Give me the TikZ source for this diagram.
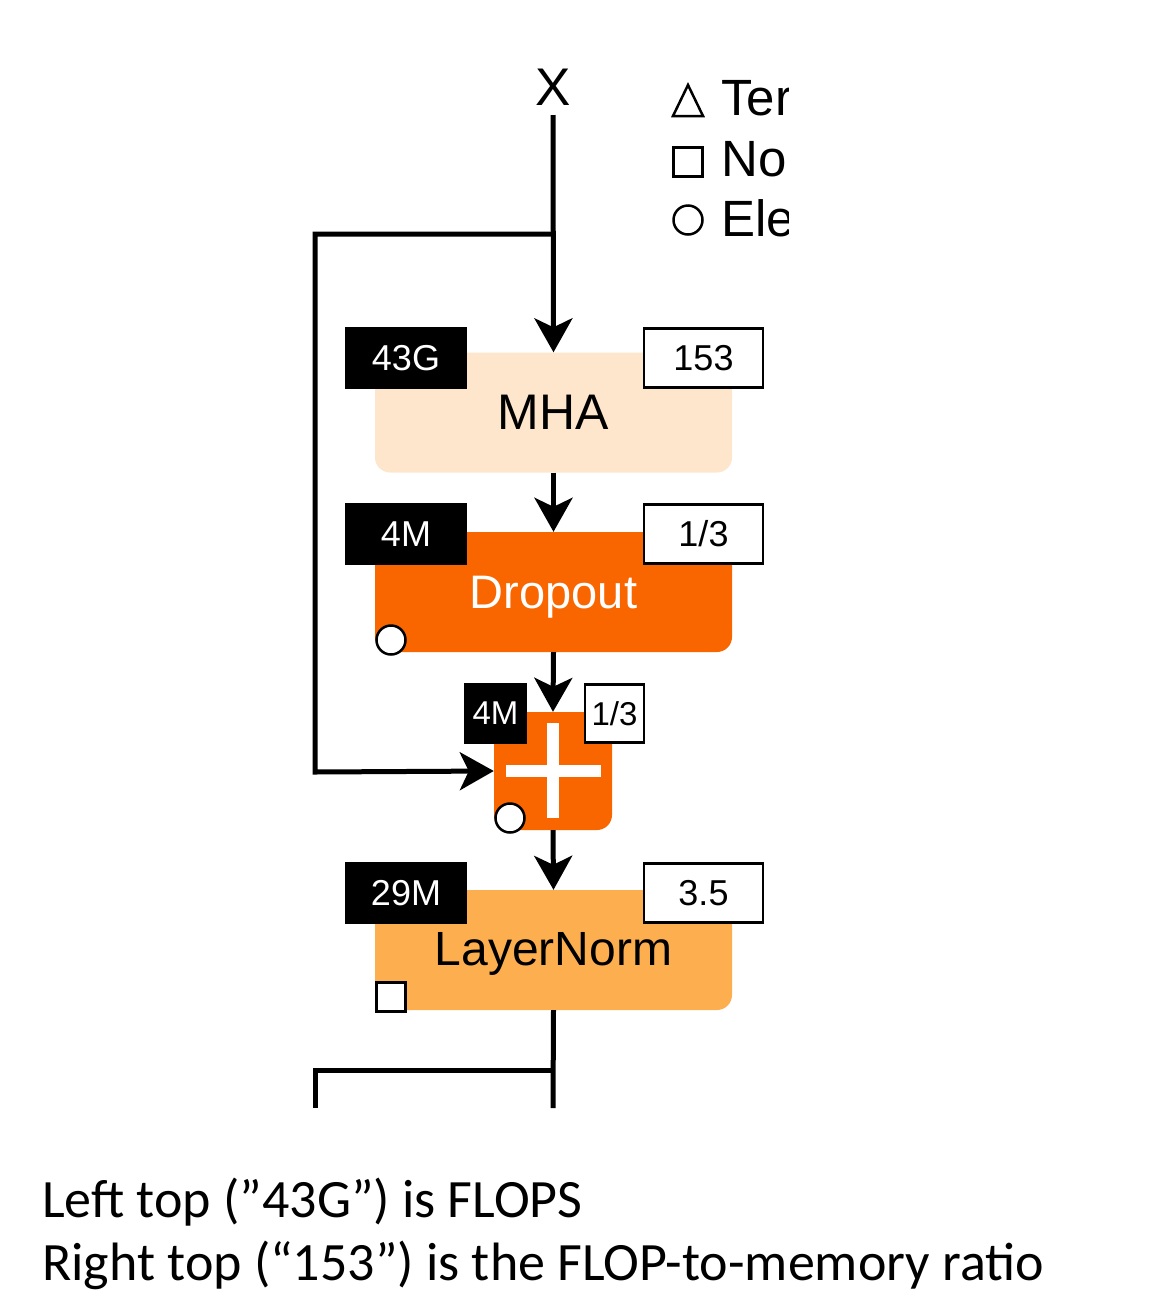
\documentclass[tikz,border=0pt]{standalone}
\usepackage{fontspec}
\setmainfont{Liberation Sans}
\newfontfamily\capfont{Carlito}
\usetikzlibrary{arrows.meta}
\definecolor{mhafill}{HTML}{FDE6CC}
\definecolor{dropfill}{HTML}{F96600}
\definecolor{lnfill}{HTML}{FDAF50}
\tikzset{
  opbox/.style={rounded corners=15pt, inner sep=0pt, minimum width=357pt, minimum height=120pt},
  blkbox/.style={fill=black, text=white, inner sep=0pt, minimum width=122pt, minimum height=62pt, font=\fontsize{36}{40}\selectfont},
  whtbox/.style={fill=white, draw=black, line width=2.5pt, inner sep=0pt, minimum width=119pt, minimum height=59pt, font=\fontsize{36}{40}\selectfont},
  sblk/.style={blkbox, minimum width=63pt, minimum height=61pt, font=\fontsize{33}{36}\selectfont},
  swht/.style={whtbox, minimum width=59pt, minimum height=58pt, font=\fontsize{33}{36}\selectfont},
  mark circ/.style={circle, draw=black, fill=white, line width=2.5pt, minimum size=29pt, inner sep=0pt},
  mark sq/.style={rectangle, draw=black, fill=white, line width=2.5pt, minimum size=29pt, inner sep=0pt},
  wire/.style={line width=5pt},
  arr/.style={wire, -{Stealth[length=34pt, width=38pt, inset=9pt]}},
  legtxt/.style={anchor=base west, inner sep=0pt, font=\fontsize{51}{56}\selectfont},
  captxt/.style={anchor=base west, inner sep=0pt, font=\capfont\fontsize{54}{60}\selectfont},
}
\begin{document}
\begin{tikzpicture}[x=1pt, y=-1pt]
\useasboundingbox (0,0) rectangle (1160,1310);

% title X
\node[anchor=base, inner sep=0pt, font=\fontsize{53}{56}\selectfont] (xlab) at (553,105) {X};
\coordinate (xin) at (553,115);
\coordinate (split) at (553,234);
\coordinate (skipA) at (315,234);
\coordinate (skipB) at (315,772);

% legend
\begin{scope}
\clip (650,50) rectangle (788,260);
\draw[line width=2.5pt, line join=miter] (673,116) -- (688,85) -- (703,116) -- cycle;
\node[mark sq] (legsq) at (688,162) {};
\node[mark circ] (legci) at (688,220) {};
\node[legtxt] (legt1) at (721,115) {Ter};
\node[legtxt] (legt2) at (721,176) {Nor};
\node[legtxt] (legt3) at (721,236) {Ele};
\end{scope}

% MHA
\node[opbox, fill=mhafill, font=\fontsize{50}{54}\selectfont] (mha) at (553.5,412.5) {MHA};
\node[blkbox] (mhaF) at (406,358) {43G};
\node[whtbox] (mhaR) at (703.5,358) {153};

% Dropout
\node[opbox, fill=dropfill] (drop) at (553.5,592) {};
\node[text=white, inner sep=0pt, font=\fontsize{47}{52}\selectfont] (droptxt) at (553.5,597) {Dropout};
\node[blkbox] (dropF) at (406,534) {4M};
\node[whtbox] (dropR) at (703.5,534) {1/3};
\node[mark circ] (dropC) at (391,640) {};

% Plus
\node[rounded corners=15pt, fill=dropfill, inner sep=0pt, minimum width=118pt, minimum height=118pt] (plus) at (553,771) {};
\draw[white, line width=12pt] (553,723) -- (553,818);
\draw[white, line width=12pt] (506,771) -- (601,771);
\node[sblk] (plusF) at (495.5,713.5) {4M};
\node[swht] (plusR) at (614.5,713.5) {1/3};
\node[mark circ] (plusC) at (510,818) {};

% LayerNorm
\node[opbox, fill=lnfill] (ln) at (553.5,950) {};
\node[inner sep=0pt, font=\fontsize{48}{52}\selectfont] (lntxt) at (553.5,954) {LayerNorm};
\node[blkbox] (lnF) at (406,893) {29M};
\node[whtbox] (lnR) at (703.5,893) {3.5};
\node[mark sq] (lnS) at (391,997) {};

% connectors
\draw[arr] (xin) -- (mha.north);
\draw[arr] (mha.south) -- (drop.north);
\draw[arr] (drop.south) -- (plus.north);
\draw[arr] (plus.south) -- (ln.north);
\draw[arr, line join=miter] (split) -- (skipA) -- (skipB) -- (plus.west);

\coordinate (outend) at (553,1108);
\coordinate (br) at (553,1070);
\coordinate (brend) at (315,1108);
\draw[wire] (ln.south) -- (outend);
\draw[wire, line join=miter] (br) -| (brend);

% caption
\node[captxt] (cap1) at (42,1217) {Left top (”43G”) is FLOPS};
\node[captxt] (cap2) at (42,1280) {Right top (“153”) is the FLOP-to-memory ratio};
\end{tikzpicture}
\end{document}
